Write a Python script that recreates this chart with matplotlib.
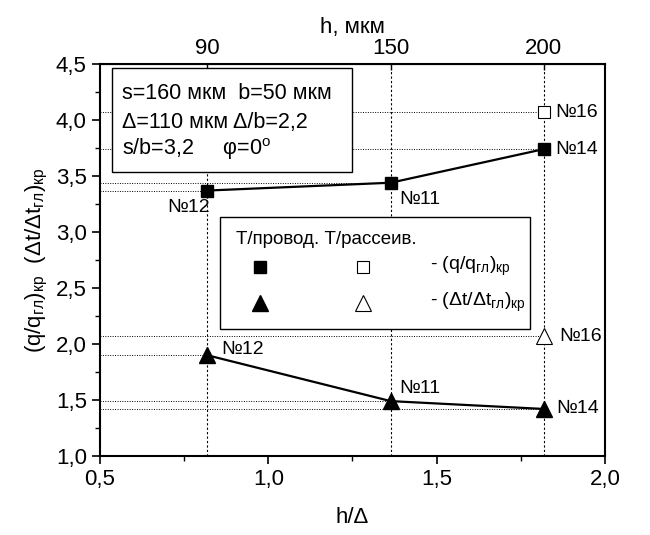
import matplotlib
matplotlib.use("Agg")
import matplotlib.pyplot as plt
from matplotlib.ticker import FuncFormatter, MultipleLocator
from matplotlib.patches import Rectangle

plt.rcParams["font.family"] = ["Liberation Sans", "DejaVu Sans"]
plt.rcParams["mathtext.fontset"] = "custom"
plt.rcParams["mathtext.rm"] = "Liberation Sans"
plt.rcParams["mathtext.it"] = "Liberation Sans:italic"

# ---- data ----
DELTA = 110                      # мкм
h_um = [90, 150, 200]
samples = ["№12", "№11", "№14"]
q_cond = [3.37, 3.44, 3.74]      # Т/провод., (q/q_гл)_кр
t_cond = [1.90, 1.49, 1.42]      # Т/провод., (Δt/Δt_гл)_кр
h_scat = 200                     # Т/рассеив., №16
q_scat = 4.07
t_scat = 2.07
x_cond = [h / DELTA for h in h_um]
x_scat = h_scat / DELTA

fig = plt.figure(figsize=(6.5, 5.35), dpi=100)
ax = fig.add_axes([100/650, 79/535, 505/650, 392/535])

# guide lines
for x in x_cond:
    ax.axvline(x, color="k", ls=(0, (2, 2)), lw=0.8, zorder=1)
for x, y in list(zip(x_cond, q_cond)) + list(zip(x_cond, t_cond)) + [(x_scat, q_scat), (x_scat, t_scat)]:
    ax.plot([0.5, x], [y, y], color="k", ls=(0, (1, 1.5)), lw=0.7, zorder=1)

ax.plot(x_cond, q_cond, "k-", lw=1.6, marker="s", ms=9, zorder=5)
ax.plot(x_cond, t_cond, "k-", lw=1.6, marker="^", ms=11, zorder=5)
ax.plot([x_scat], [q_scat], ls="none", marker="s", ms=8, mfc="white", mec="k", mew=0.8, zorder=5)
ax.plot([x_scat], [t_scat], ls="none", marker="^", ms=11, mfc="white", mec="k", mew=0.8, zorder=5)

fs_n = 14
def lab(text, x, y, dx, dy, ha, va):
    ax.annotate(text, (x, y), xytext=(dx, dy), textcoords="offset points",
                ha=ha, va=va, fontsize=fs_n, zorder=7)

lab(samples[0], x_cond[0], q_cond[0], 2, -6, "right", "top")
lab(samples[1], x_cond[1], q_cond[1], 6, -6, "left", "top")
lab(samples[2], x_cond[2], q_cond[2], 8, 0, "left", "center")
lab("№16", x_scat, q_scat, 8, 0, "left", "center")
lab(samples[0], x_cond[0], t_cond[0], 10, 4, "left", "center")
lab(samples[1], x_cond[1], t_cond[1], 6, 3, "left", "bottom")
lab(samples[2], x_cond[2], t_cond[2], 9, 0, "left", "center")
lab("№16", x_scat, t_scat, 11, 0, "left", "center")

# parameter box
ax.add_patch(Rectangle((0.536, 3.54), 0.712, 0.92, fc="white", ec="k", lw=1.0, zorder=6))
ax.text(0.565, 4.24, "s=160 мкм  b=50 мкм", fontsize=15.5, va="center", zorder=7)
ax.text(0.565, 3.98, "Δ=110 мкм Δ/b=2,2", fontsize=15.5, va="center", zorder=7)
ax.text(0.565, 3.74, r"s/b=3,2     φ=0$\mathregular{^o}$", fontsize=15.5, va="center", zorder=7)

# legend box
ax.add_patch(Rectangle((0.856, 2.13), 0.921, 1.0, fc="white", ec="k", lw=1.0, zorder=6))
ax.text(0.905, 2.93, "Т/провод. Т/рассеив.", fontsize=13.5, va="center", zorder=7)
ax.plot([0.975], [2.69], "ks", ms=9, zorder=7)
ax.plot([1.281], [2.69], ls="none", marker="s", ms=8, mfc="white", mec="k", mew=0.8, zorder=7)
ax.plot([0.975], [2.37], "k^", ms=11, zorder=7)
ax.plot([1.281], [2.37], ls="none", marker="^", ms=11, mfc="white", mec="k", mew=0.8, zorder=7)
ax.text(1.48, 2.69, r"- $\mathregular{(q/q_{гл})_{кр}}$", fontsize=14, va="center", zorder=7)
ax.text(1.48, 2.37, r"- $\mathregular{(Δt/Δt_{гл})_{кр}}$", fontsize=14, va="center", zorder=7)

ax.set_xlim(0.5, 2.0)
ax.set_ylim(1.0, 4.5)
ax.xaxis.set_major_locator(MultipleLocator(0.5))
ax.xaxis.set_minor_locator(MultipleLocator(0.25))
ax.yaxis.set_major_locator(MultipleLocator(0.5))
ax.yaxis.set_minor_locator(MultipleLocator(0.25))
comma = FuncFormatter(lambda v, p: f"{v:.1f}".replace(".", ","))
ax.xaxis.set_major_formatter(comma)
ax.yaxis.set_major_formatter(comma)
ax.tick_params(which="major", direction="out", length=6, width=1.2, labelsize=16)
ax.tick_params(which="minor", direction="out", length=3.5, width=1.0)
for s in ax.spines.values():
    s.set_linewidth(1.5)

ax.set_xlabel("h/Δ", fontsize=16, labelpad=12)
ax.set_ylabel(r"$\mathregular{(q/q_{гл})_{кр}\ \ (Δt/Δt_{гл})_{кр}}$", fontsize=16, labelpad=4)

top = ax.secondary_xaxis("top", functions=(lambda x: x * DELTA, lambda h: h / DELTA))
top.set_xticks(h_um)
top.set_xticklabels([str(h) for h in h_um])
top.tick_params(direction="in", length=4, width=1.0, labelsize=16)
top.set_xlabel("h, мкм", fontsize=16, labelpad=4)

fig.savefig("out.png", dpi=100)
